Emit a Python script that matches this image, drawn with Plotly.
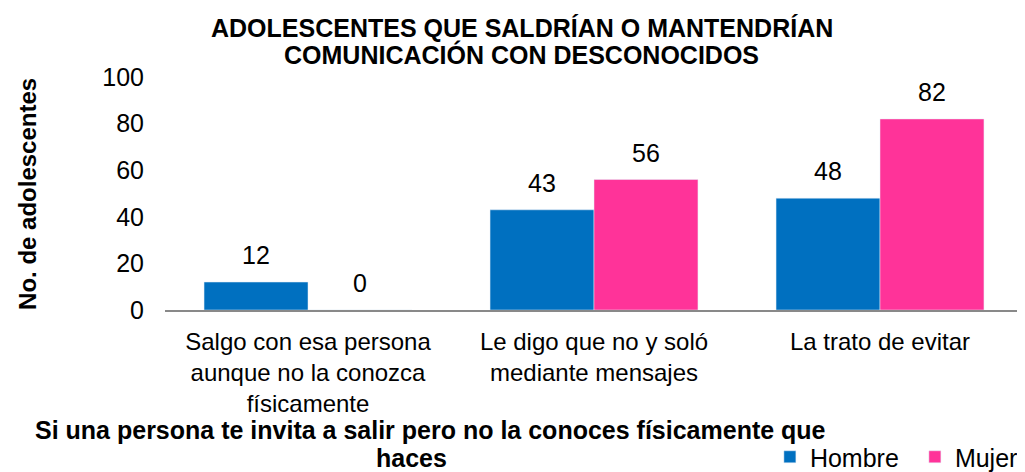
import plotly.graph_objects as go

categories = ["Salgo con esa persona<br>aunque no la conozca<br>físicamente",
              "Le digo que no y soló<br>mediante mensajes",
              "La trato de evitar"]
hombre = [12, 43, 48]
mujer = [0, 56, 82]

fig = go.Figure()
fig.add_trace(go.Bar(x=categories, y=hombre, name="Hombre", marker_color="#0070C0"))
fig.add_trace(go.Bar(x=categories, y=mujer, name="Mujer", marker_color="#FF3399"))

# value labels above bars
for cat, h, m in zip(categories, hombre, mujer):
    for val, shift in ((h, -52), (m, 52)):
        fig.add_annotation(x=cat, y=val, xref="x", yref="y", text=str(val),
                           showarrow=False, xshift=shift, yshift=11, yanchor="bottom",
                           font=dict(size=25, color="#000000"))

fig.update_layout(
    width=1025, height=472,
    margin=dict(l=157, r=10, t=69, b=170, autoexpand=False),
    plot_bgcolor="white", paper_bgcolor="white",
    font=dict(family="Liberation Sans, Arial", size=24, color="#000000"),
    barmode="group", bargap=0.273, bargroupgap=0,
    showlegend=True,
    legend=dict(orientation="h", x=0.705, y=-0.631, xanchor="left", yanchor="middle",
                font=dict(size=25), itemwidth=30, traceorder="normal",
                entrywidth=100, entrywidthmode="pixels"),
    xaxis=dict(showline=True, linecolor="#898989", linewidth=1.5, ticks="", showgrid=False,
               tickfont=dict(size=24), tickangle=0, automargin=False, ticklabelstandoff=9),
    yaxis=dict(range=[0, 100], dtick=20, showgrid=False, showline=False, zeroline=False,
               ticks="", tickfont=dict(size=25), ticklabelstandoff=20, automargin=False),
)

fig.add_annotation(text="<b>ADOLESCENTES QUE SALDRÍAN O MANTENDRÍAN</b>",
                   x=0.416, y=1.2124, xref="paper", yref="paper", xanchor="center", yanchor="middle",
                   showarrow=False, font=dict(size=25))
fig.add_annotation(text="<b>COMUNICACIÓN CON DESCONOCIDOS</b>",
                   x=0.416, y=1.0966, xref="paper", yref="paper", xanchor="center", yanchor="middle",
                   showarrow=False, font=dict(size=25))
fig.add_annotation(text="<b>No. de adolescentes</b>", textangle=-90,
                   x=-0.1597, y=0.498, xref="paper", yref="paper", xanchor="center", yanchor="middle",
                   showarrow=False, font=dict(size=24))
fig.add_annotation(text="<b>Si una persona te invita a salir pero no la conoces físicamente que</b>",
                   x=0.31, y=-0.516, xref="paper", yref="paper", xanchor="center", yanchor="middle",
                   showarrow=False, font=dict(size=25))
fig.add_annotation(text="<b>haces</b>",
                   x=0.287, y=-0.637, xref="paper", yref="paper", xanchor="center", yanchor="middle",
                   showarrow=False, font=dict(size=25))

fig.write_html("out.html")
